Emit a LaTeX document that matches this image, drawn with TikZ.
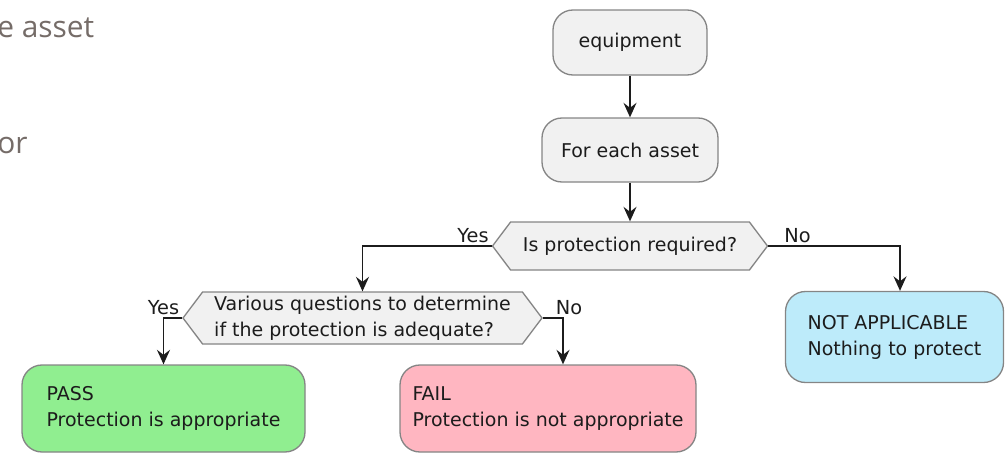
\documentclass[tikz,border=0pt]{standalone}
\usepackage{fontspec}
\setmainfont{DejaVu Sans}
\newfontfamily\pagefont{Open Sans}
\usetikzlibrary{arrows.meta,positioning,calc,shapes.symbols}
\definecolor{ink}{HTML}{1C1C1C}
\definecolor{edge}{HTML}{858585}
\definecolor{shade}{HTML}{F1F1F1}
\definecolor{okgreen}{HTML}{90EE90}
\definecolor{failpink}{HTML}{FFB6C1}
\definecolor{skyblue}{HTML}{BDEBFA}
\definecolor{pagegrey}{HTML}{756C68}
\tikzset{arr/.style={-{Stealth[length=2.9mm,width=2.6mm,inset=1mm]},line width=1pt,draw=ink},
  box/.style={rounded corners=4mm,draw=edge,line width=0.75pt,fill=shade,align=left,inner sep=0pt,font=\fontsize{10.8}{14.8}\selectfont,text=ink},
  ask/.style={signal,signal to=east and west,signal pointer angle=106,draw=edge,line width=0.75pt,fill=shade,align=left,inner sep=0pt,font=\fontsize{10.8}{14.8}\selectfont,text=ink},
  lbl/.style={inner sep=1.5pt,font=\fontsize{11}{12}\selectfont,text=ink},
  pagetext/.style={anchor=west,inner sep=0pt,font=\pagefont\fontsize{17}{20}\selectfont,text=pagegrey}}

\begin{document}
\begin{tikzpicture}
\useasboundingbox (0,0) rectangle (20.12,-9.12);
\node[pagetext] (pagea) at (-0.06,-0.55) {e asset};
\node[pagetext] (pageb) at (-0.06,-2.92) {or};
\node[box,minimum width=3.08cm,minimum height=1.3cm] (equip) at (12.6,-0.85) {equipment};
\node[box,minimum width=3.52cm,minimum height=1.28cm] (asset) at (12.6,-3.0) {For each asset};
\node[ask,minimum width=5.5cm,minimum height=0.96cm] (protect) at (12.6,-4.92) {Is protection required?};
\node[ask,minimum width=7.18cm,minimum height=1.04cm] (adequate) at (7.25,-6.36) {Various questions to determine\\if the protection is adequate?};
\node[box,fill=skyblue,minimum width=4.36cm,minimum height=1.82cm] (notapp) at (17.89,-6.74) {NOT APPLICABLE\\Nothing to protect};
\node[box,fill=okgreen,minimum width=5.66cm,minimum height=1.74cm] (pass) at (3.27,-8.17) {PASS\\Protection is appropriate};
\node[box,fill=failpink,minimum width=5.92cm,minimum height=1.74cm] (fail) at (10.96,-8.17) {FAIL\\Protection is not appropriate};
\draw[arr] (equip.south) -- (asset.north);
\draw[arr] (asset.south) -- (protect.north);
\draw[arr] (protect.west) -| (adequate.north);
\draw[arr] (protect.east) -| ([xshift=0.11cm]notapp.north);
\draw[arr] (adequate.west) -| (pass.north);
\draw[arr] (adequate.east) -| ([xshift=0.3cm]fail.north);
\node[lbl,above left] (yesa) at (protect.west) {Yes};
\node[lbl,above right,xshift=0.26cm] (noa) at (protect.east) {No};
\node[lbl,above left] (yesb) at (adequate.west) {Yes};
\node[lbl,above right,xshift=0.2cm] (nob) at (adequate.east) {No};
\end{tikzpicture}
\end{document}
